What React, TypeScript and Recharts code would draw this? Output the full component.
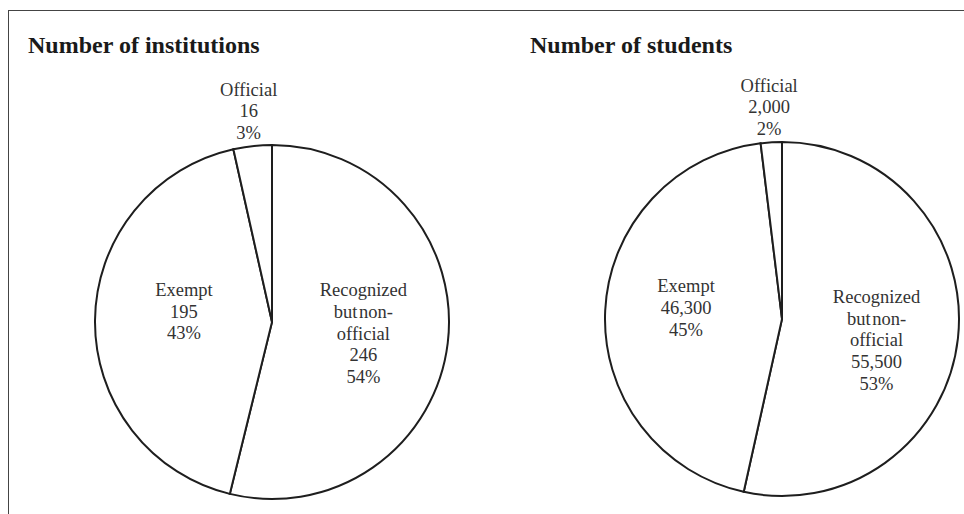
import { Pie, PieChart } from "recharts";

// slices run clockwise from 12 o'clock
const categories = ["Recognized but non-official", "Exempt", "Official"];
const categoryLines = [["Recognized", "but non-", "official"], ["Exempt"], ["Official"]];

const institutionValues = [246, 195, 16];
const institutionPct = ["54%", "43%", "3%"];

const studentValues = [55500, 46300, 2000];
const studentPct = ["53%", "45%", "2%"];

const SERIF = '"Liberation Serif", "Times New Roman", serif';
const RAD = Math.PI / 180;
const LINE_H = 21.6;

// small per-slice label nudges (px, x/y) to sit like the original
type Nudge = [number, number][];

const makeLabel = (pct: string[], nudge: Nudge) => (p: any) => {
  const outside = p.percent < 0.05;
  const r = p.outerRadius * (outside ? 1.2 : 0.52);
  const [nx, ny] = nudge[p.index] ?? [0, 0];
  const x = p.cx + r * Math.cos(-p.midAngle * RAD) + nx;
  const y = p.cy + r * Math.sin(-p.midAngle * RAD) + ny;
  const lines = [...categoryLines[p.index], Number(p.value).toLocaleString("en-US"), pct[p.index]];
  const y0 = y - ((lines.length - 1) * LINE_H) / 2;
  return (
    <text
      key={`lbl-${p.index}`}
      x={x}
      y={y0}
      textAnchor="middle"
      fill="#333"
      style={{ fontFamily: SERIF, fontSize: 18.5, wordSpacing: -3 }}
    >
      {lines.map((l, i) => (
        <tspan key={i} x={x} y={y0 + i * LINE_H} dy="0.35em">
          {l}
        </tspan>
      ))}
    </text>
  );
};

function PieBlock({
  title,
  values,
  pct,
  nudge,
  left,
  width,
  cx,
  cy,
  titleX,
}: {
  title: string;
  values: number[];
  pct: string[];
  nudge: Nudge;
  left: number;
  width: number;
  cx: number;
  cy: number;
  titleX: number;
}) {
  const data = categories.map((name, i) => ({ name, value: values[i] }));
  return (
    <div style={{ position: "absolute", left, top: 0, width, height: 514 }}>
      <div
        style={{
          position: "absolute",
          left: titleX,
          top: 33,
          fontFamily: SERIF,
          fontWeight: "bold",
          fontSize: 24,
          lineHeight: 1,
          color: "#1a1a1a",
          whiteSpace: "nowrap",
        }}
      >
        {title}
      </div>
      <PieChart width={width} height={514} margin={{ top: 0, right: 0, bottom: 0, left: 0 }}>
        <Pie
          data={data}
          dataKey="value"
          nameKey="name"
          cx={cx}
          cy={cy}
          outerRadius={177}
          startAngle={90}
          endAngle={-270}
          fill="#fff"
          stroke="#1e1e1e"
          strokeWidth={2}
          label={makeLabel(pct, nudge)}
          labelLine={false}
          isAnimationActive={false}
        />
      </PieChart>
    </div>
  );
}

export default function App() {
  return (
    <div
      style={{
        position: "absolute",
        left: 0,
        top: 0,
        width: 964,
        height: 514,
        background: "#fff",
        overflow: "hidden",
      }}
    >
      <div
        style={{
          position: "absolute",
          left: 8,
          top: 10,
          width: 970,
          height: 520,
          borderTop: "1px solid #444",
          borderLeft: "1px solid #444",
        }}
      />
      <PieBlock
        title="Number of institutions"
        values={institutionValues}
        pct={institutionPct}
        nudge={[[0, 0], [4, -10], [0, 0]]}
        left={0}
        width={480}
        cx={272}
        cy={322}
        titleX={28}
      />
      <PieBlock
        title="Number of students"
        values={studentValues}
        pct={studentPct}
        nudge={[[3, 11], [-4, -7], [0, 0]]}
        left={480}
        width={484}
        cx={302}
        cy={319}
        titleX={50}
      />
    </div>
  );
}
